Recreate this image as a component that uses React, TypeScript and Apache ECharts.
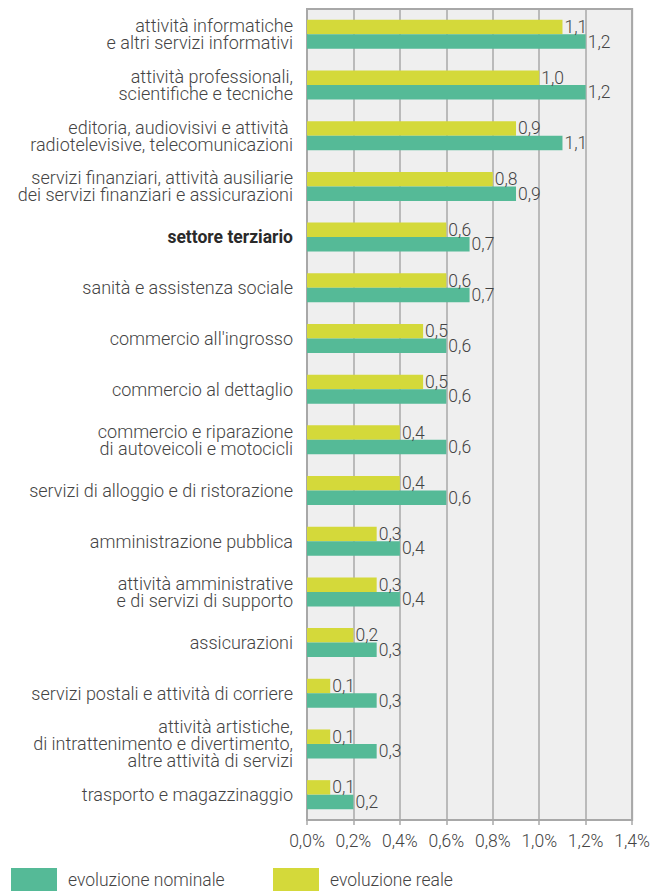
import React, { useEffect, useRef } from "react";
import * as echarts from "echarts";

const categories: string[] = [
  "attività informatiche\ne altri servizi informativi",
  "attività professionali,\nscientifiche e tecniche",
  "editoria, audiovisivi e attività \nradiotelevisive, telecomunicazioni",
  "servizi finanziari, attività ausiliarie\ndei servizi finanziari e assicurazioni",
  "settore terziario",
  "sanità e assistenza sociale",
  "commercio all'ingrosso",
  "commercio al dettaglio",
  "commercio e riparazione\ndi autoveicoli e motocicli",
  "servizi di alloggio e di ristorazione",
  "amministrazione pubblica",
  "attività amministrative\ne di servizi di supporto",
  "assicurazioni",
  "servizi postali e attività di corriere",
  "attività artistiche,\ndi intrattenimento e divertimento,\naltre attività di servizi",
  "trasporto e magazzinaggio",
];

const reale: number[] = [1.1, 1.0, 0.9, 0.8, 0.6, 0.6, 0.5, 0.5, 0.4, 0.4, 0.3, 0.3, 0.2, 0.1, 0.1, 0.1];
const nominale: number[] = [1.2, 1.2, 1.1, 0.9, 0.7, 0.7, 0.6, 0.6, 0.6, 0.6, 0.4, 0.4, 0.3, 0.3, 0.3, 0.2];

const xTicks = { min: 0, max: 1.4, interval: 0.2 };

const FONT = "Roboto";
const FS = 17.5;
const YFS = 18;
const TEXT = "#444444";
const GRID = "#a8a8a8";
const YELLOW = "#d4d93a";
const GREEN = "#55ba97";

const fmt = (v: number) => v.toFixed(1).replace(".", ",");

export default function App() {
  const ref = useRef<HTMLDivElement>(null);
  useEffect(() => {
    if (!ref.current) return;
    const chart = echarts.init(ref.current, undefined, { renderer: "svg" });
    const labelStyle = {
      show: true,
      position: "right" as const,
      distance: 2,
      fontFamily: FONT,
      fontWeight: 300,
      fontSize: FS,
      color: TEXT,
      formatter: (p: any) => fmt(p.value),
    };
    const legendBase = {
      top: 868,
      padding: 0,
      itemWidth: 46,
      itemHeight: 24,
      icon: "rect",
      textStyle: {
        fontFamily: FONT,
        fontWeight: 300,
        fontSize: FS,
        color: TEXT,
        padding: [0, 0, 0, 6],
      },
    };
    chart.setOption({
      animation: false,
      textStyle: { fontFamily: FONT },
      grid: {
        left: 307,
        right: 17,
        top: 9,
        bottom: 71,
        show: true,
        backgroundColor: "#efefef",
        borderColor: GRID,
        borderWidth: 2,
        containLabel: false,
      },
      legend: [
        { ...legendBase, left: 11, data: ["evoluzione nominale"] },
        { ...legendBase, left: 273, data: ["evoluzione reale"] },
      ],
      xAxis: {
        type: "value",
        min: xTicks.min,
        max: xTicks.max,
        interval: xTicks.interval,
        axisLine: { show: true, lineStyle: { color: GRID, width: 2 } },
        axisTick: { show: true, length: 5, lineStyle: { color: GRID, width: 1.5 } },
        splitLine: { show: true, lineStyle: { color: GRID, width: 1.5 } },
        axisLabel: {
          fontFamily: FONT,
          fontWeight: 300,
          fontSize: FS,
          color: TEXT,
          margin: 12,
          formatter: (v: number) => fmt(v) + "%",
        },
      },
      yAxis: {
        type: "category",
        inverse: true,
        data: categories,
        axisLine: { show: true, lineStyle: { color: GRID, width: 2 } },
        axisTick: { show: false },
        axisLabel: {
          fontFamily: FONT,
          fontWeight: 300,
          fontSize: YFS,
          lineHeight: 17,
          color: TEXT,
          margin: 14,
          align: "right",
          formatter: (v: string) => (v === "settore terziario" ? "{b|" + v + "}" : v),
          rich: {
            b: { fontFamily: FONT, fontWeight: "bold", fontSize: 17.5, color: "#2a2a2a" },
          },
        },
      },
      series: [
        {
          name: "evoluzione reale",
          type: "bar",
          data: reale,
          barWidth: 14.5,
          barGap: "0%",
          itemStyle: { color: YELLOW },
          label: labelStyle,
        },
        {
          name: "evoluzione nominale",
          type: "bar",
          data: nominale,
          barWidth: 14.5,
          barGap: "0%",
          itemStyle: { color: GREEN },
          label: labelStyle,
        },
      ],
    });
    return () => chart.dispose();
  }, []);
  return (
    <div
      ref={ref}
      style={{ position: "fixed", left: 0, top: 0, width: 653, height: 891, background: "#ffffff" }}
    />
  );
}
